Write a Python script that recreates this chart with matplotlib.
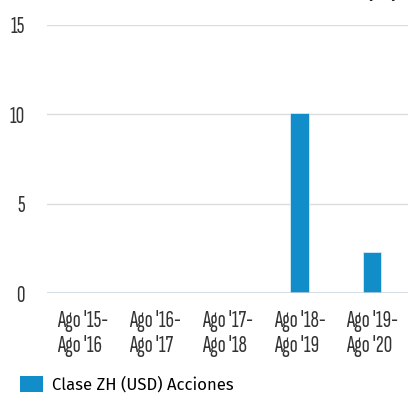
import matplotlib
matplotlib.use("Agg")
import matplotlib.pyplot as plt
from matplotlib.patches import Patch

periods = ["Ago '15-\nAgo '16", "Ago '16-\nAgo '17", "Ago '17-\nAgo '18",
           "Ago '18-\nAgo '19", "Ago '19-\nAgo '20"]
returns = [0.0, 0.0, 0.0, 10.1, 2.3]
series_name = "Clase ZH (USD) Acciones"
y_ticks = [0, 5, 10, 15]

tick_font = "Sofia Sans Extra Condensed"
bar_color = "#118dc9"

fig = plt.figure(figsize=(4.08, 3.94), dpi=100)
ax = fig.add_axes([47 / 408, 1 - 293 / 394, 361 / 408, 268 / 394])

x = range(len(periods))
ax.bar(x, returns, width=0.26, color=bar_color, edgecolor="#d6e9f5", linewidth=0.6, zorder=3)

ax.set_xlim(-0.5, len(periods) - 0.5)
ax.set_ylim(0, 15)
ax.set_yticks(y_ticks)
ax.set_yticklabels([str(t) for t in y_ticks], fontfamily=tick_font, fontweight="light",
                   fontsize=17, color="#333333")
ax.set_xticks(list(x))
ax.set_xticklabels(periods, fontfamily=tick_font, fontweight="light", fontsize=17,
                   color="#333333", linespacing=1.22, multialignment="left")
ax.tick_params(axis="both", length=0)
ax.tick_params(axis="y", pad=16)
ax.tick_params(axis="x", pad=12)

for t in y_ticks[1:]:
    ax.axhline(t, color="#dcdcdc", linewidth=1.0, zorder=1)
ax.axhline(0, color="#c9d4dd", linewidth=1.8, zorder=4)

for s in ax.spines.values():
    s.set_visible(False)

# Heading sits mostly above the canvas edge
fig.text(0.025, 1.0 + 0.037, "Rendimiento en los últimos 12 meses (%)", fontsize=12,
         fontweight="bold", color="#222222", va="top", ha="left")

fig.legend(handles=[Patch(facecolor=bar_color, edgecolor="none")], labels=[series_name],
           loc="lower left", bbox_to_anchor=(5 / 408, -0.035), frameon=False,
           handlelength=1.4, handleheight=1.1, handletextpad=0.5,
           prop={"family": "Fira Sans", "size": 12})

fig.savefig("out.png", dpi=100)
